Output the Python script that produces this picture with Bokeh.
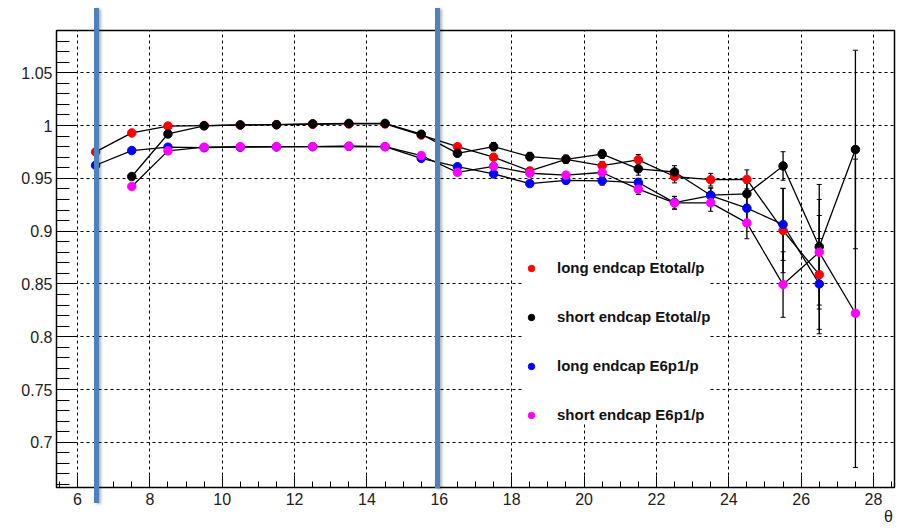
import json
import numpy as np
from bokeh.plotting import figure
from bokeh.layouts import column
from bokeh.models import (Range1d, FixedTicker, CustomJSTickFormatter, ColumnDataSource,
                          Whisker, TeeHead, LinearAxis, Legend, LegendItem, Div)
from bokeh.embed import file_html
from bokeh.resources import INLINE

# ---------------- data ----------------
theta_long = [6.5, 7.5, 8.5, 9.5, 10.5, 11.5, 12.5, 13.5, 14.5, 15.5, 16.5,
              17.5, 18.5, 19.5, 20.5, 21.5, 22.5, 23.5, 24.5, 25.5, 26.5]
theta_short = [7.5, 8.5, 9.5, 10.5, 11.5, 12.5, 13.5, 14.5, 15.5, 16.5,
               17.5, 18.5, 19.5, 20.5, 21.5, 22.5, 23.5, 24.5, 25.5, 26.5, 27.5]

long_etotal = [0.975, 0.993, 0.9995, 1.000, 1.0005, 1.0008, 1.0012, 1.0015, 1.0015, 0.991, 0.980,
               0.970, 0.957, 0.968, 0.962, 0.9675, 0.9517, 0.9487, 0.949, 0.9006, 0.8588]
long_etotal_err = [0.001, 0.001, 0.001, 0.001, 0.001, 0.001, 0.001, 0.001, 0.001, 0.001, 0.002,
                   0.003, 0.003, 0.003, 0.004, 0.005, 0.006, 0.006, 0.009, 0.040, 0.056]

short_etotal = [0.9517, 0.992, 0.9997, 1.0006, 1.0008, 1.0016, 1.002, 1.002, 0.9918, 0.9737,
                0.980, 0.9706, 0.968, 0.973, 0.959, 0.956, 0.934, 0.9353, 0.9617, 0.8852, 0.9773]
short_etotal_err = [0.002, 0.001, 0.001, 0.001, 0.001, 0.001, 0.001, 0.001, 0.001, 0.002,
                    0.004, 0.004, 0.004, 0.004, 0.006, 0.006, 0.007, 0.010, 0.0135, 0.059, 0.094]

long_e6p1 = [0.9624, 0.9763, 0.9795, 0.979, 0.9795, 0.9797, 0.980, 0.9803, 0.980, 0.969, 0.961,
             0.9542, 0.945, 0.948, 0.9476, 0.946, 0.927, 0.9337, 0.9217, 0.9063, 0.850]
long_e6p1_err = [0.001, 0.001, 0.001, 0.001, 0.001, 0.001, 0.001, 0.001, 0.001, 0.001, 0.002,
                 0.003, 0.003, 0.003, 0.004, 0.004, 0.006, 0.007, 0.012, 0.034, 0.043]

short_e6p1 = [0.9422, 0.976, 0.9795, 0.980, 0.980, 0.980, 0.9804, 0.980, 0.9716, 0.9557,
              0.9614, 0.9548, 0.953, 0.9555, 0.9397, 0.9267, 0.9268, 0.9078, 0.8494, 0.880, 0.8222]
short_e6p1_err = [0.002, 0.001, 0.001, 0.001, 0.001, 0.001, 0.001, 0.001, 0.001, 0.002,
                  0.003, 0.003, 0.003, 0.004, 0.005, 0.006, 0.008, 0.015, 0.031, 0.050, 0.146]

legend_labels = ["long endcap Etotal/p", "short endcap Etotal/p",
                 "long endcap E6p1/p", "short endcap E6p1/p"]
series_colors = ["#ff0000", "#000000", "#0000ff", "#ff00ff"]

x_ticks = [6, 8, 10, 12, 14, 16, 18, 20, 22, 24, 26, 28]
y_ticks = [0.7, 0.75, 0.8, 0.85, 0.9, 0.95, 1.0, 1.05]
cut_lines = [6.525, 15.96]
x_title = "θ"

# ---------------- figure ----------------
X0, X1 = 5.4196, 28.58
BL, BR, BT, BB = 56, 7, 30, 45
W, H = 901, 532
p = figure(width=W, height=H, output_backend="svg", toolbar_location=None,
           x_range=Range1d(X0, X1), y_range=Range1d(0.6572, 1.090),
           min_border_left=BL, min_border_right=BR, min_border_top=BT, min_border_bottom=BB)
p.background_fill_color = "white"
p.border_fill_color = "white"
p.outline_line_color = "black"
p.outline_line_width = 1.5

x_minor = [round(v, 2) for v in np.arange(5.5, 28.6, 0.5)]
y_minor = [round(v, 3) for v in np.arange(0.66, 1.09, 0.01)]
p.xaxis.ticker = FixedTicker(ticks=x_ticks, minor_ticks=x_minor)
p.yaxis.ticker = FixedTicker(ticks=y_ticks, minor_ticks=y_minor)
p.yaxis.formatter = CustomJSTickFormatter(code="return (Math.round(tick*100)/100).toString();")
p.xaxis.formatter = CustomJSTickFormatter(code="return Math.round(tick).toString();")

for ax in (p.xaxis[0], p.yaxis[0]):
    ax.axis_line_color = "black"
    ax.major_tick_line_color = "black"
    ax.minor_tick_line_color = "black"
    ax.major_tick_out = 0
    ax.minor_tick_out = 0
    ax.major_label_text_font = "Liberation Sans"
    ax.major_label_text_font_size = "16px"
    ax.major_label_text_color = "#222222"
p.xaxis.major_tick_in = 12
p.xaxis.minor_tick_in = 6
p.xaxis.major_label_standoff = 5
p.yaxis.major_tick_in = 20
p.yaxis.minor_tick_in = 13
p.yaxis.major_label_standoff = 4

# axis title placed at the right end (ROOT style) as a second, tick-less axis
title_axis = LinearAxis(ticker=FixedTicker(ticks=[28.415], minor_ticks=[]),
                        formatter=CustomJSTickFormatter(code="return %s;" % json.dumps(x_title)),
                        axis_line_color=None, major_tick_line_color=None, minor_tick_line_color=None,
                        major_tick_in=0, major_tick_out=0, minor_tick_in=0, minor_tick_out=0,
                        major_label_standoff=0, major_label_text_font="Liberation Sans",
                        major_label_text_font_size="16px", major_label_text_color="#222222")
p.add_layout(title_axis, "below")

for g in (p.xgrid[0], p.ygrid[0]):
    g.grid_line_color = "black"
    g.grid_line_dash = "3 3"
    g.grid_line_width = 1

series = [
    (theta_long, long_etotal, long_etotal_err),
    (theta_short, short_etotal, short_etotal_err),
    (theta_long, long_e6p1, long_e6p1_err),
    (theta_short, short_e6p1, short_e6p1_err),
]

for xs, ys, es in series:
    p.line(xs, ys, line_color="black", line_width=1.3)

for xs, ys, es in series:
    src = ColumnDataSource(dict(x=xs, upper=[y + e for y, e in zip(ys, es)],
                                lower=[y - e for y, e in zip(ys, es)]))
    w = Whisker(base="x", upper="upper", lower="lower", source=src,
                line_color="black", line_width=1.3,
                upper_head=TeeHead(size=5, line_color="black", line_width=1),
                lower_head=TeeHead(size=5, line_color="black", line_width=1))
    p.add_layout(w)

items = []
for (xs, ys, es), col, lab in zip(series, series_colors, legend_labels):
    r = p.scatter(xs, ys, size=8.5, fill_color=col, line_color=col)
    items.append(LegendItem(label=lab, renderers=[r]))

legend = Legend(items=items, location=(467, 64), padding=14, margin=0, spacing=32,
                glyph_width=16, glyph_height=16, label_height=16, label_standoff=18,
                label_text_font="Liberation Sans", label_text_font_style="bold",
                label_text_font_size="15px", label_text_color="#111111",
                border_line_color=None, background_fill_color="white", background_fill_alpha=1)
p.add_layout(legend, "center")

# vertical marker bars drawn over the whole picture (they extend beyond the frame)
frame_w = W - BL - BR
def sx(v):
    return BL + (v - X0) / (X1 - X0) * frame_w

bar_css = ("position:absolute;width:5px;background:#4f81bd;"
           "box-shadow:2px 1px 3px rgba(0,0,0,0.3);")
bar_bottoms = [503, 488]
html = "".join('<div style="%sleft:%.1fpx;top:8px;height:%dpx;"></div>'
               % (bar_css, sx(cx) - 2.5, bb - 8) for cx, bb in zip(cut_lines, bar_bottoms))
overlay = Div(text=html, width=1, height=1, margin=0,
              styles={"position": "absolute", "left": "0px", "top": "0px",
                      "z-index": "5", "overflow": "visible", "padding": "0px"})

layout = column(p, overlay)
open("out.html", "w").write(file_html(layout, INLINE))
